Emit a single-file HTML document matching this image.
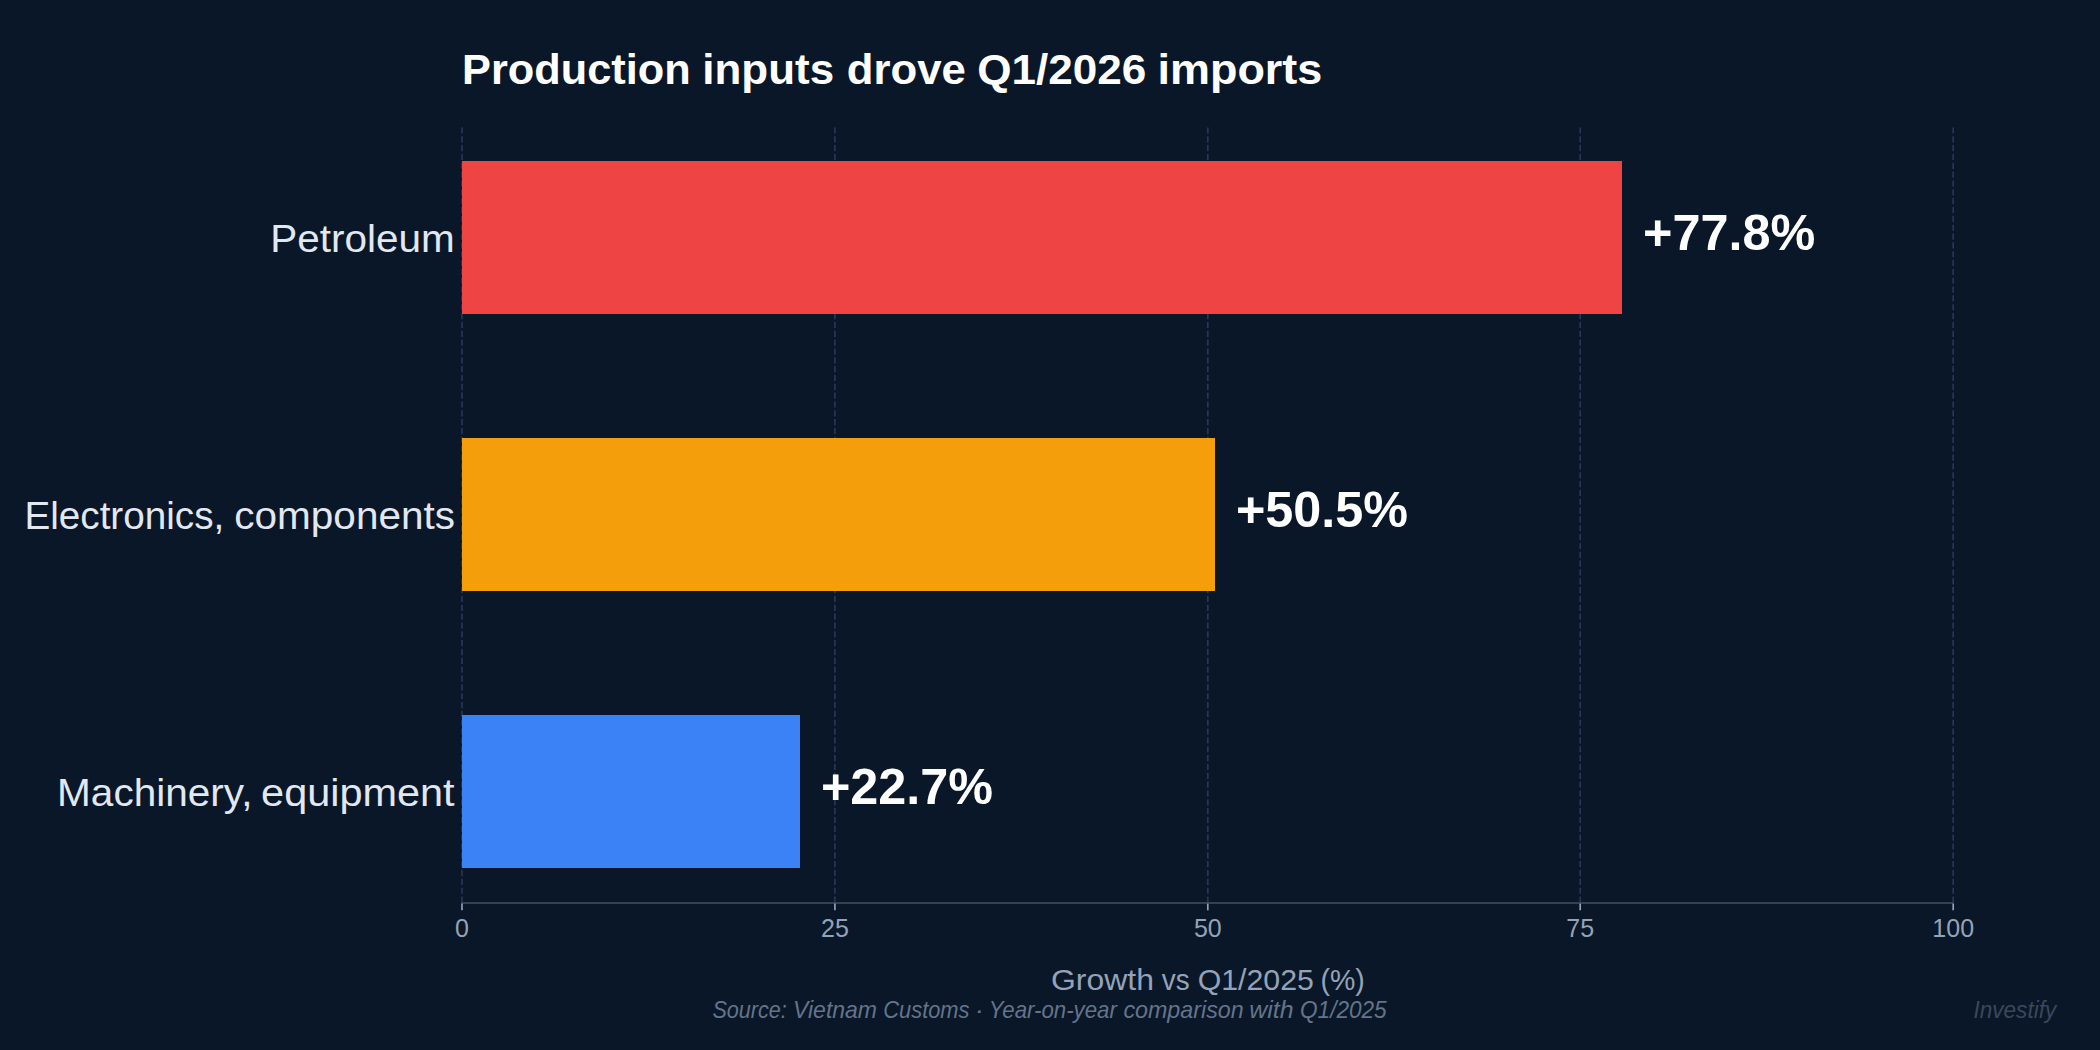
<!DOCTYPE html>
<html lang="en">
<head>
<meta charset="utf-8">
<title>Production inputs drove Q1/2026 imports</title>
<style>
  html, body { margin: 0; padding: 0; background: #0a1728; }
  body { width: 2100px; height: 1050px; overflow: hidden; position: relative; }
  svg { display: block; position: absolute; left: 0; top: 0; }
  text { font-family: "Liberation Sans", sans-serif; white-space: pre; }
  .title { font-weight: 700; font-size: 41.7px; fill: #ffffff; }
  .ylab { font-size: 38.3px; fill: #e2e8f0; }
  .val { font-weight: 700; font-size: 50px; fill: #ffffff; }
  .tick { font-size: 25px; fill: #94a3b8; text-anchor: middle; }
  .xlab { font-size: 29.2px; fill: #94a3b8; }
  .src { font-size: 23.4px; font-style: italic; fill: #64748b; }
  .wm { font-size: 23.4px; font-style: italic; fill: #3a475c; }
</style>
</head>
<body>
<svg width="2100" height="1050" viewBox="0 0 2100 1050">
  <rect x="0" y="0" width="2100" height="1050" fill="#0a1728"/>

  <!-- vertical grid lines -->
  <g stroke="#27365a" stroke-width="1.67" stroke-dasharray="6.17 2.67" fill="none">
    <line x1="462" y1="127.4" x2="462" y2="903"/>
    <line x1="834.9" y1="127.4" x2="834.9" y2="903"/>
    <line x1="1207.8" y1="127.4" x2="1207.8" y2="903"/>
    <line x1="1580.2" y1="127.4" x2="1580.2" y2="903"/>
    <line x1="1953.2" y1="127.4" x2="1953.2" y2="903"/>
  </g>

  <!-- bars -->
  <rect x="462" y="161" width="1160" height="153" fill="#ef4444"/>
  <rect x="462" y="438" width="753" height="153" fill="#f59e0b"/>
  <rect x="462" y="715" width="338" height="153" fill="#3b82f6"/>

  <!-- x axis + ticks -->
  <line x1="461.2" y1="903" x2="1954" y2="903" stroke="#334155" stroke-width="1.9"/>
  <g stroke="#94a3b8" stroke-width="1.67" fill="none">
    <line x1="462" y1="903.6" x2="462" y2="910.3"/>
    <line x1="834.9" y1="903.6" x2="834.9" y2="910.3"/>
    <line x1="1207.8" y1="903.6" x2="1207.8" y2="910.3"/>
    <line x1="1580.2" y1="903.6" x2="1580.2" y2="910.3"/>
    <line x1="1953.2" y1="903.6" x2="1953.2" y2="910.3"/>
  </g>

  <!-- title -->
  <text class="title" y="83.7"><tspan x="462.1" textLength="228.6" lengthAdjust="spacingAndGlyphs">Production</tspan> <tspan x="702.3" textLength="131.8" lengthAdjust="spacingAndGlyphs">inputs</tspan> <tspan x="846.7" textLength="119.1" lengthAdjust="spacingAndGlyphs">drove</tspan> <tspan x="977.2" textLength="169.1" lengthAdjust="spacingAndGlyphs">Q1/2026</tspan> <tspan x="1157.5" textLength="164.8" lengthAdjust="spacingAndGlyphs">imports</tspan></text>

  <!-- category labels -->
  <text class="ylab" x="270.3" y="252.2" textLength="184.4" lengthAdjust="spacingAndGlyphs">Petroleum</text>
  <text class="ylab" y="529"><tspan x="24.4" textLength="199.9" lengthAdjust="spacingAndGlyphs">Electronics,</tspan> <tspan x="234.3" textLength="220.7" lengthAdjust="spacingAndGlyphs">components</tspan></text>
  <text class="ylab" y="806"><tspan x="57.1" textLength="195.3" lengthAdjust="spacingAndGlyphs">Machinery,</tspan> <tspan x="261.1" textLength="193.5" lengthAdjust="spacingAndGlyphs">equipment</tspan></text>

  <!-- value labels -->
  <text class="val" x="1643.0" y="250" textLength="172.4" lengthAdjust="spacingAndGlyphs">+77.8%</text>
  <text class="val" x="1235.9" y="527.2" textLength="172.2" lengthAdjust="spacingAndGlyphs">+50.5%</text>
  <text class="val" x="820.9" y="804.2" textLength="172.2" lengthAdjust="spacingAndGlyphs">+22.7%</text>

  <!-- tick labels -->
  <text class="tick" x="462" y="937">0</text>
  <text class="tick" x="834.9" y="937">25</text>
  <text class="tick" x="1207.8" y="937">50</text>
  <text class="tick" x="1580.2" y="937">75</text>
  <text class="tick" x="1953.2" y="937">100</text>

  <!-- x axis label -->
  <text class="xlab" y="989.7"><tspan x="1051.0" textLength="103.0" lengthAdjust="spacingAndGlyphs">Growth</tspan> <tspan x="1161.8" textLength="27.9" lengthAdjust="spacingAndGlyphs">vs</tspan> <tspan x="1197.7" textLength="116.2" lengthAdjust="spacingAndGlyphs">Q1/2025</tspan> <tspan x="1320.5" textLength="44.3" lengthAdjust="spacingAndGlyphs">(%)</tspan></text>

  <!-- source note -->
  <text class="src" y="1017.8"><tspan x="712.4" textLength="74.5" lengthAdjust="spacingAndGlyphs">Source:</tspan> <tspan x="793.1" textLength="83.9" lengthAdjust="spacingAndGlyphs">Vietnam</tspan> <tspan x="883.3" textLength="86.2" lengthAdjust="spacingAndGlyphs">Customs</tspan> <tspan x="974.5" textLength="9.6" lengthAdjust="spacingAndGlyphs">·</tspan> <tspan x="988.7" textLength="128.2" lengthAdjust="spacingAndGlyphs">Year-on-year</tspan> <tspan x="1123.4" textLength="120.3" lengthAdjust="spacingAndGlyphs">comparison</tspan> <tspan x="1249.3" textLength="44.3" lengthAdjust="spacingAndGlyphs">with</tspan> <tspan x="1300.0" textLength="86.7" lengthAdjust="spacingAndGlyphs">Q1/2025</tspan></text>

  <!-- watermark -->
  <text class="wm" x="1973.5" y="1018" textLength="82.7" lengthAdjust="spacingAndGlyphs">Investify</text>
</svg>
</body>
</html>
